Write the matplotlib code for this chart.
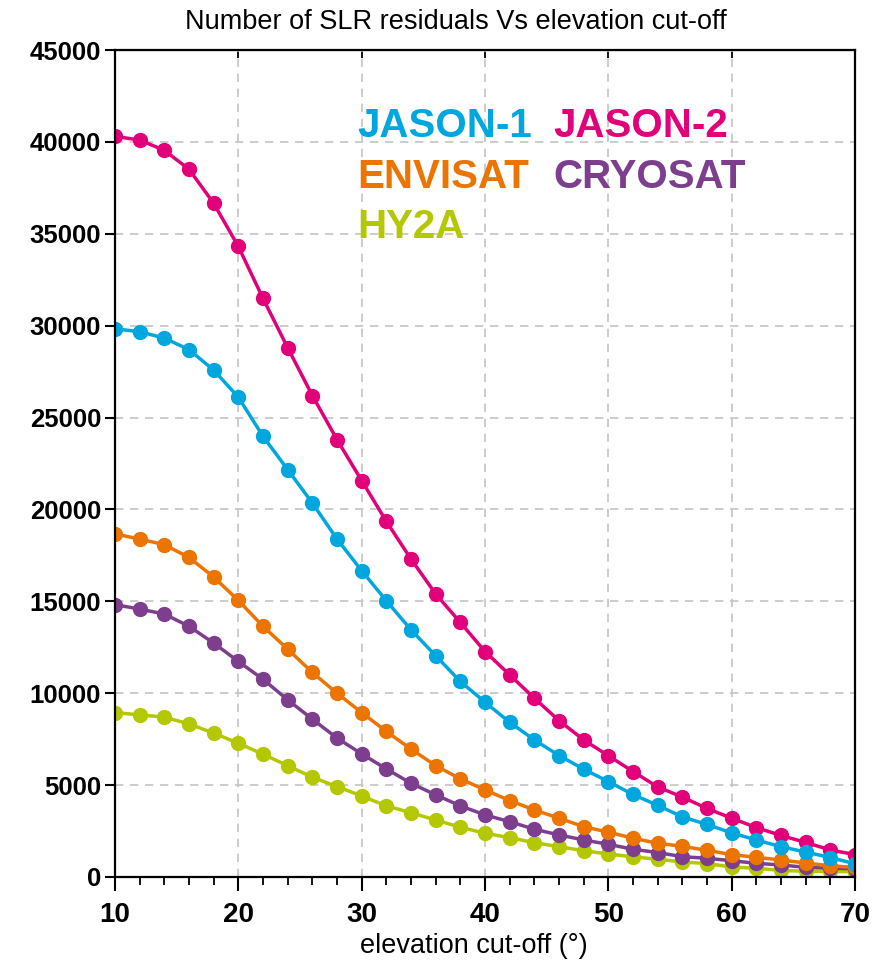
import matplotlib
matplotlib.use("Agg")
import matplotlib.pyplot as plt
from matplotlib.ticker import MultipleLocator

plt.rcParams['font.family'] = ['Liberation Sans', 'DejaVu Sans']

elevation = [10, 12, 14, 16, 18, 20, 22, 24, 26, 28, 30, 32, 34, 36, 38, 40,
             42, 44, 46, 48, 50, 52, 54, 56, 58, 60, 62, 64, 66, 68, 70]

jason1 = [29830, 29670, 29320, 28700, 27580, 26110, 23980, 22170, 20350, 18390,
          16670, 15030, 13450, 12040, 10640, 9510, 8420, 7460, 6610, 5870,
          5190, 4490, 3900, 3270, 2860, 2400, 2015, 1650, 1360, 1060, 720]
jason2 = [40300, 40100, 39540, 38510, 36660, 34310, 31480, 28800, 26200, 23800,
          21570, 19350, 17300, 15400, 13850, 12270, 11000, 9730, 8510, 7460,
          6600, 5740, 4900, 4350, 3730, 3200, 2690, 2260, 1880, 1470, 1220]
envisat = [18670, 18390, 18080, 17390, 16320, 15050, 13640, 12400, 11130, 10000,
           8950, 7920, 6960, 6060, 5340, 4740, 4160, 3650, 3200, 2740,
           2440, 2110, 1835, 1670, 1450, 1220, 1070, 926, 760, 610, 520]
cryosat = [14820, 14580, 14310, 13640, 12730, 11730, 10760, 9640, 8590, 7560,
           6700, 5880, 5100, 4470, 3870, 3380, 3010, 2600, 2290, 2015,
           1780, 1510, 1330, 1106, 1017, 888, 744, 654, 527, 474, 450]
hy2a = [8950, 8820, 8700, 8330, 7830, 7280, 6680, 6060, 5430, 4920,
        4410, 3870, 3500, 3100, 2710, 2380, 2140, 1870, 1650, 1430,
        1250, 1100, 964, 820, 730, 545, 474, 360, 310, 300, 290]

names = ["JASON-1", "JASON-2", "ENVISAT", "CRYOSAT", "HY2A"]
colors = ["#00A6DE", "#E2007A", "#EC7400", "#7D3F8D", "#B3C800"]
series = [jason1, jason2, envisat, cryosat, hy2a]

fig = plt.figure(figsize=(8.86, 9.64), dpi=100)
ax = fig.add_axes([115/886, 1-877/964, (855-115)/886, (877-50)/964])

# draw lowest first so that upper series sit on top
for name, col, vals in reversed(list(zip(names, colors, series))):
    ax.plot(elevation, vals, color=col, lw=2.5, marker='o', ms=10,
            mec=col, mfc=col, label=name, solid_joinstyle='round')

ax.set_xlim(10, 70)
ax.set_ylim(0, 45000)
ax.xaxis.set_major_locator(MultipleLocator(10))
ax.xaxis.set_minor_locator(MultipleLocator(2))
ax.yaxis.set_major_locator(MultipleLocator(5000))

ax.grid(True, which='major', color='#c4c4c4', linestyle=(0, (5, 4)), lw=1.2)
ax.set_axisbelow(True)

for s in ax.spines.values():
    s.set_linewidth(1.6)
    s.set_color('black')

ax.tick_params(axis='x', which='major', direction='out', length=10, width=1.5,
               pad=8)
ax.tick_params(axis='x', which='minor', direction='out', length=6, width=1.3)
ax.tick_params(axis='y', which='major', direction='out', length=7, width=1.5,
               pad=3)
for lab in ax.get_xticklabels():
    lab.set_fontweight('bold')
    lab.set_fontsize(20)
for lab in ax.get_yticklabels():
    lab.set_fontweight('bold')
    lab.set_fontsize(18.5)

sec = ax.secondary_xaxis('top')
sec.xaxis.set_major_locator(MultipleLocator(10))
sec.tick_params(direction='in', length=6, width=1.3, labeltop=False)

fig.text(456/886, 1-29/964, "Number of SLR residuals Vs elevation cut-off",
         fontsize=19.5, ha='center', va='baseline')
fig.text(474/886, 1-953/964, "elevation cut-off (°)",
         fontsize=19.5, ha='center', va='baseline')

# coloured text legend
legend_rows = [(0, 357, 137), (1, 553, 137), (2, 357, 188),
               (3, 553, 188), (4, 357, 238)]
for idx, px, py in legend_rows:
    fig.text(px/886, 1-py/964, names[idx], color=colors[idx], fontsize=29,
             fontweight='bold', ha='left', va='baseline')

fig.savefig("out.png", dpi=100)
